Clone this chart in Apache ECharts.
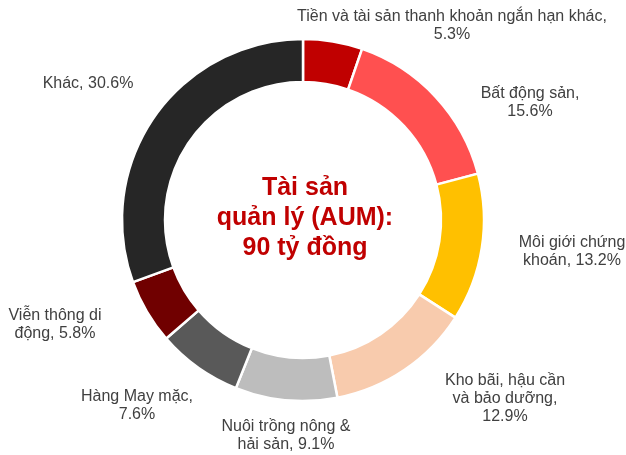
<!DOCTYPE html>
<html>
<head>
<meta charset="utf-8">
<script src="https://cdn.jsdelivr.net/npm/echarts@6/dist/echarts.min.js"></script>
<style>
  html, body { margin: 0; padding: 0; background: #fff; }
  #aum { width: 626px; height: 455px; }
</style>
</head>
<body>
<div id="aum"></div>
<script>
// Cơ cấu tài sản quản lý (AUM)
var categories = [
  'Tiền và tài sản thanh khoản ngắn hạn khác',
  'Bất động sản',
  'Môi giới chứng\nkhoán',
  'Kho bãi, hậu cần\nvà bảo dưỡng',
  'Nuôi trồng nông &\nhải sản',
  'Hàng May mặc',
  'Viễn thông di\nđộng',
  'Khác'
]
var shares = [5.3, 15.6, 13.2, 12.9, 9.1, 7.6, 5.8, 30.6]
// value goes on its own line for these slices
var valueOnNewLine = [true, true, false, true, false, true, false, false]
var sliceColors = ['#C00000', '#FF5050', '#FFC000', '#F8CBAD', '#BDBDBD', '#595959', '#700000', '#262626']
var centerText = 'Tài sản\nquản lý (AUM):\n90 tỷ đồng'

// where each label block is centred
var labelAt = [[452, 26], [530, 103], [572, 252], [505, 399], [286, 436], [137, 406], [55, 325], [88, 84]]

var pieData = []
for (var i = 0; i < categories.length; i++) {
  pieData.push({ name: categories[i], value: shares[i], itemStyle: { color: sliceColors[i] } })
}

var myChart = echarts.init(document.getElementById('aum'))

var option = {
  animation: false,
  graphic: [{
    type: 'text',
    x: 305,
    y: 218,
    style: {
      text: centerText,
      fill: '#C00000',
      font: 'bold 25px "Liberation Sans", Arial, sans-serif',
      lineHeight: 30,
      textAlign: 'center',
      textVerticalAlign: 'middle'
    }
  }],
  series: [{
    type: 'pie',
    center: [303, 220],
    radius: [138, 181],
    startAngle: 90,
    clockwise: true,
    avoidLabelOverlap: false,
    itemStyle: { borderColor: '#fff', borderWidth: 2.5 },
    emphasis: { disabled: true },
    label: {
      show: true,
      position: 'outside',
      color: '#404040',
      fontSize: 16,
      fontFamily: '"Liberation Sans", Arial, sans-serif',
      lineHeight: 18,
      align: 'center',
      formatter: function (p) {
        var sep = valueOnNewLine[p.dataIndex] ? ',\n' : ', '
        return p.name + sep + p.value.toFixed(1) + '%'
      }
    },
    labelLine: { show: false },
    labelLayout: function (params) {
      var pos = labelAt[params.dataIndex]
      return { x: pos[0], y: pos[1], align: 'center', verticalAlign: 'middle' }
    },
    data: pieData
  }]
}

myChart.setOption(option)
</script>
</body>
</html>
